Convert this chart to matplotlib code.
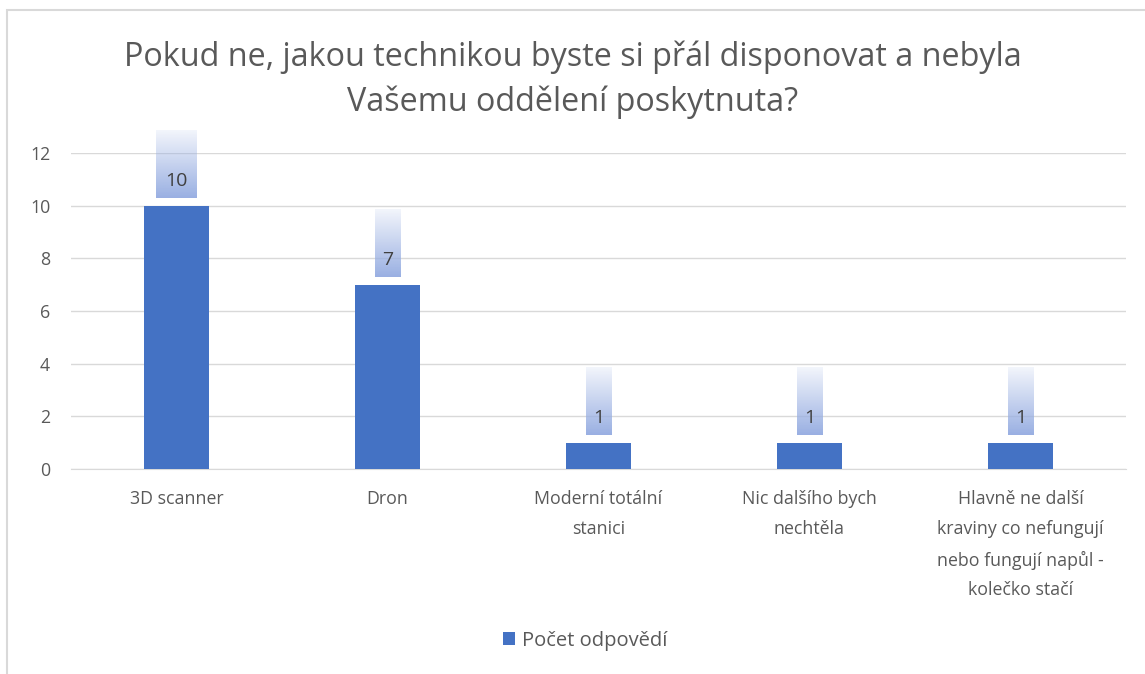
import matplotlib.pyplot as plt
import numpy as np
from matplotlib.patches import Rectangle

plt.rcParams['font.family'] = ['Open Sans', 'DejaVu Sans']

categories = ['3D scanner', 'Dron', 'Moderní totální\nstanici', 'Nic dalšího bych\nnechtěla',
              'Hlavně ne další\nkraviny co nefungují\nnebo fungují napůl -\nkolečko stačí']
values = [10, 7, 1, 1, 1]
y_ticks = [0, 2, 4, 6, 8, 10, 12]
series_name = 'Počet odpovědí'
title = 'Pokud ne, jakou technikou byste si přál disponovat a nebyla\nVašemu oddělení poskytnuta?'

bar_color = '#4472C4'
text_color = '#595959'
grid_color = '#D9D9D9'

fig = plt.figure(figsize=(11.45, 6.74), dpi=100)
ax = fig.add_axes([0.062, 0.3042, 0.9214, 0.4688])

x = np.arange(len(categories))
ax.bar(x, values, width=0.31, color=bar_color, label=series_name, zorder=3)

ax.set_yticks(y_ticks)
ax.set_xticks(x)
ax.set_xticklabels(categories, linespacing=1.85, va='top')
ax.tick_params(axis='both', length=0, labelsize=12.8, colors=text_color)
ax.tick_params(axis='x', pad=15)
ax.tick_params(axis='y', pad=15)
ax.grid(axis='y', color=grid_color, linewidth=1, zorder=0)
for s in ['top', 'right', 'left']:
    ax.spines[s].set_visible(False)
ax.spines['bottom'].set_color(grid_color)

# data-label callouts with vertical gradient
grad = np.linspace(0, 1, 256).reshape(-1, 1)
cmap_rgba = np.zeros((256, 1, 4))
cmap_rgba[..., 0] = 0.60
cmap_rgba[..., 1] = 0.69
cmap_rgba[..., 2] = 0.89
cmap_rgba[..., 3] = 0.12 + 0.88 * grad
for xi, v in zip(x, values):
    w = 0.05 + 0.07 * len(str(v))
    ax.imshow(cmap_rgba, extent=(xi - w / 2, xi + w / 2, v + 0.3, v + 2.85),
              origin='upper', aspect='auto', zorder=4, clip_on=False, interpolation='bilinear')
    ax.text(xi, v + 0.95, str(v), ha='center', va='center', fontsize=14,
            color='#404040', zorder=5)
ax.set_xlim(-0.5, len(categories) - 0.5)
ax.set_ylim(0, 12)

fig.suptitle(title, y=0.94, fontsize=23.3, color=text_color, linespacing=1.45)

leg = fig.legend(loc='center', bbox_to_anchor=(0.511, 0.049), frameon=False, fontsize=14.5,
                 handlelength=0.6, handleheight=0.6, handletextpad=0.35)
for t in leg.get_texts():
    t.set_color(text_color)

fig.patches.append(Rectangle((7 / 1145, -0.1), 1.2, 1 - 10 / 674 + 0.1, transform=fig.transFigure,
                             fill=False, edgecolor=grid_color, linewidth=1.5))

fig.savefig('out.png', dpi=100)
